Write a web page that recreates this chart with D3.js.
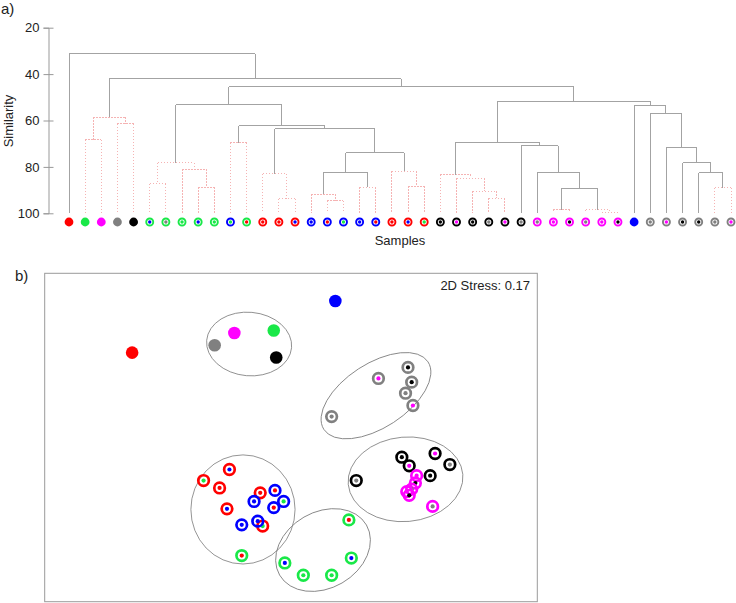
<!DOCTYPE html>
<html>
<head>
<meta charset="utf-8">
<script src="https://cdn.jsdelivr.net/npm/d3@7"></script>
<style>
  body { margin: 0; background: #fff; }
  text { font-family: "Liberation Sans", Arial, sans-serif; fill: #222; }
</style>
</head>
<body>
<div id="graph"></div>
<script>
// leaves of the dendrogram, left to right
const leafRing = ["red","green","magenta","gray","black",
  "green","green","green","green","green","blue","green",
  "red","red","red","blue","blue","blue","blue","blue","red","red","red",
  "black","black","black","black","black","black",
  "magenta","magenta","magenta","magenta","magenta","magenta",
  "blue","gray","gray","gray","gray","gray","gray"];
// null = solid marker
const leafDot = [null,null,null,null,null,
  "blue","gray","green","blue","green","green","red",
  "red","red","blue","blue","red","green","blue","red","red","blue","green",
  "black","magenta","black","gray","magenta","gray",
  "gray","magenta","black","gray","magenta","black",
  null,"gray","magenta","black","black","gray","magenta"];

// merges: [child a, child b, similarity, significant]; numbers are leaves, "m#" earlier merges
const merges = [
  [1, 2, 68.3, false], [3, 4, 61.4, false], ["m0", "m1", 58.6, false],
  [5, 6, 87.2, false], [8, 9, 88.8, false], [7, "m4", 81.1, false], ["m3", "m5", 78.2, false],
  [10, 11, 69.6, false], [13, 14, 93.8, false], [12, "m8", 82.9, false],
  [16, 17, 94.5, false], [15, "m10", 91.8, false], [18, 19, 88.8, false], ["m11", "m12", 82.5, true],
  [21, 22, 88.4, false], [20, "m14", 81.9, false], ["m13", "m15", 74.0, true],
  ["m9", "m16", 63.6, true], ["m7", "m17", 62.3, true], ["m6", "m18", 53.3, true],
  [26, 27, 93.5, false], [25, "m20", 90.5, false], [24, "m21", 84.9, false], [23, "m22", 83.4, false],
  [30, 31, 98.4, false], [33, 34, 99.8, false], [32, "m25", 98.4, false], ["m24", "m26", 89.1, true],
  [29, "m27", 82.5, true], [28, "m28", 70.9, true], ["m23", "m29", 69.3, true],
  [40, 41, 88.9, false], [39, "m31", 82.5, true], [38, "m32", 78.2, true], [37, "m33", 71.8, true],
  [36, "m34", 57.1, true], [35, "m35", 53.7, true], ["m30", "m36", 51.7, true],
  ["m19", "m37", 45.4, true], ["m2", "m38", 42.1, true], [0, "m39", 31.3, true]
];
const simTicks = [20, 40, 60, 80, 100];

// nMDS ordination
const mdsX = [-1.29, -0.62, -0.46, -0.14, -0.12, 0.36,
  0.71, 0.95, 0.98, 0.93, 0.99, 0.33,
  0.90, 0.96, 1.17, 1.29, 1.13, 0.53,
  1.02, 1.01, 0.98, 0.94, 0.96, 1.15,
  -0.50, -0.71, -0.58, -0.52, -0.25, -0.23,
  -0.30, -0.13, -0.06, -0.14, -0.40, -0.27,
  -0.40, 0.47, 0.49, -0.05, 0.10, 0.33];
const mdsY = [0.69, 0.75, 0.85, 0.87, 0.65, 1.11,
  0.48, 0.57, 0.45, 0.36, 0.26, 0.17,
  -0.16, -0.23, -0.13, -0.22, -0.31, -0.35,
  -0.31, -0.37, -0.42, -0.44, -0.47, -0.56,
  -0.26, -0.35, -0.41, -0.58, -0.45, -0.72,
  -0.52, -0.43, -0.52, -0.57, -0.71, -0.68,
  -0.96, -0.67, -0.98, -1.02, -1.12, -1.12];
const mdsRing = ["red","gray","magenta","green","black","blue",
  "gray","gray","gray","gray","gray","gray",
  "black","black","black","black","black","black",
  "magenta","magenta","magenta","magenta","magenta","magenta",
  "red","red","red","red","red","red",
  "blue","blue","blue","blue","blue","blue",
  "green","green","green","green","green","green"];
const mdsDot = [null,null,null,null,null,null,
  "magenta","black","black","gray","magenta","gray",
  "black","magenta","magenta","gray","black","gray",
  "magenta","black","gray","magenta","black","gray",
  "blue","green","red","blue","red","green",
  "blue","red","green","red","blue","blue",
  "red","red","blue","blue","green","green"];
// group outlines: [cx, cy, rx, ry, angle]
const groupEllipses = [
  [-0.34, 0.76, 0.346, 0.258, 5],
  [0.69, 0.34, 0.504, 0.260, -33],
  [0.93, -0.34, 0.467, 0.343, -5],
  [-0.39, -0.585, 0.423, 0.443, 0],
  [0.26, -0.915, 0.407, 0.309, -30]
];
const stress = 0.17;

const colors = { red: "#ff0000", green: "#19e848", magenta: "#ff00ff", gray: "#808080", black: "#000000", blue: "#0000ff" };

const width = 736;
const height = 603;

const svg = d3.select("#graph")
              .append("svg")
              .attr("width", width)
              .attr("height", height);

// ---------- a) dendrogram ----------
const xLeaf = d3.scalePoint()
                .domain(d3.range(leafRing.length))
                .range([69, 731]);

const ySim = d3.scaleLinear()
               .domain([20, 100])
               .range([27.7, 213.3]);

const nodes = {};
leafRing.forEach((c, i) => { nodes[i] = { x: xLeaf(i), y: ySim(100) }; });

const segs = [];
merges.forEach((m, k) => {
  const a = nodes[m[0]], b = nodes[m[1]];
  const y = ySim(m[2]);
  const col = m[3] ? "grey" : "pink";
  segs.push({ x1: a.x, y1: y, x2: b.x, y2: y, c: col });
  segs.push({ x1: a.x, y1: y, x2: a.x, y2: a.y, c: col });
  segs.push({ x1: b.x, y1: y, x2: b.x, y2: b.y, c: col });
  nodes["m" + k] = { x: (a.x + b.x) / 2, y: y };
});

const dendro = svg.append("g");

// pink (non-significant) first so the grey lines sit on top
dendro.selectAll("line")
      .data(segs.sort((p, q) => (p.c === "grey") - (q.c === "grey")))
      .enter()
      .append("line")
      .attr("x1", d => d.x1)
      .attr("y1", d => d.y1)
      .attr("x2", d => d.x2)
      .attr("y2", d => d.y2)
      .attr("stroke", d => d.c === "grey" ? "#a3a3a3" : "#f5b3b3")
      .attr("stroke-width", 1)
      .attr("stroke-dasharray", d => d.c === "grey" ? null : "1.5,1.5")
      .attr("shape-rendering", "crispEdges");

const yAxis = d3.axisLeft(ySim)
                .tickValues(simTicks)
                .tickSizeOuter(0)
                .tickSize(5)
                .tickPadding(4);

const yg = svg.append("g")
              .attr("transform", "translate(48.5,0)")
              .call(yAxis);
yg.select(".domain").attr("stroke", "#999");
yg.selectAll(".tick line").attr("x1", -5).attr("x2", 5).attr("stroke", "#999");
yg.selectAll(".tick text")
  .style("font-size", "13px")
  .style("font-family", "Liberation Sans, Arial, sans-serif")
  .attr("fill", "#222");

const leafY = 222;
const leaves = svg.append("g")
                  .selectAll("g")
                  .data(leafRing.map((c, i) => ({ ring: c, dot: leafDot[i], i: i })))
                  .enter()
                  .append("g")
                  .attr("transform", d => "translate(" + xLeaf(d.i) + "," + leafY + ")");

leaves.append("circle")
      .attr("r", d => d.dot ? 3.5 : 4.4)
      .attr("fill", d => d.dot ? "none" : colors[d.ring])
      .attr("stroke", d => d.dot ? colors[d.ring] : "none")
      .attr("stroke-width", 1.9);
leaves.filter(d => d.dot)
      .append("circle")
      .attr("r", 1.7)
      .attr("fill", d => colors[d.dot]);

svg.append("text")
   .attr("transform", "translate(12.5,121) rotate(-90)")
   .attr("text-anchor", "middle")
   .style("font-size", "13px")
   .text("Similarity");

svg.append("text")
   .attr("x", 400)
   .attr("y", 245)
   .attr("text-anchor", "middle")
   .style("font-size", "13px")
   .text("Samples");

svg.append("text")
   .attr("x", 1)
   .attr("y", 14)
   .style("font-size", "15px")
   .text("a)");

// ---------- b) nMDS ----------
const xMds = d3.scaleLinear()
               .domain([-2, 2])
               .range([44.7, 537.3]);

const yMds = d3.scaleLinear()
               .domain([-1.335, 1.335])
               .range([601.7, 273.3]);

svg.append("rect")
   .attr("x", xMds(-2))
   .attr("y", yMds(1.335))
   .attr("width", xMds(2) - xMds(-2))
   .attr("height", yMds(-1.335) - yMds(1.335))
   .attr("fill", "none")
   .attr("stroke", "#9a9a9a")
   .attr("stroke-width", 1);

const kx = xMds(1) - xMds(0);
svg.append("g")
   .selectAll("ellipse")
   .data(groupEllipses)
   .enter()
   .append("ellipse")
   .attr("transform", d => "translate(" + xMds(d[0]) + "," + yMds(d[1]) + ") rotate(" + d[4] + ")")
   .attr("rx", d => d[2] * kx)
   .attr("ry", d => d[3] * kx)
   .attr("fill", "none")
   .attr("stroke", "#7a7a7a")
   .attr("stroke-width", 0.8);

const pts = svg.append("g")
               .selectAll("g")
               .data(mdsX.map((x, i) => ({ x: x, y: mdsY[i], ring: mdsRing[i], dot: mdsDot[i] })))
               .enter()
               .append("g")
               .attr("transform", d => "translate(" + xMds(d.x) + "," + yMds(d.y) + ")");

pts.append("circle")
   .attr("r", d => d.dot ? 5.3 : 6.3)
   .attr("fill", d => d.dot ? "none" : colors[d.ring])
   .attr("stroke", d => d.dot ? colors[d.ring] : "none")
   .attr("stroke-width", 2.7);
pts.filter(d => d.dot)
   .append("circle")
   .attr("r", 2.1)
   .attr("fill", d => colors[d.dot]);

svg.append("text")
   .attr("x", 530)
   .attr("y", 290)
   .attr("text-anchor", "end")
   .style("font-size", "13px")
   .text("2D Stress: " + stress.toFixed(2));

svg.append("text")
   .attr("x", 15)
   .attr("y", 281)
   .style("font-size", "15px")
   .text("b)");
</script>
</body>
</html>
